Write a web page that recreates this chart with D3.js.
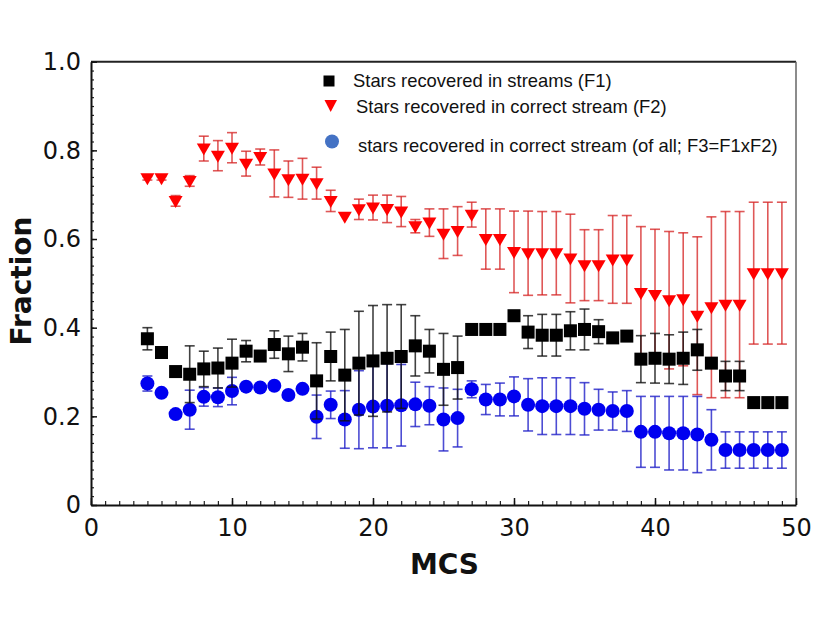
<!DOCTYPE html>
<html>
<head>
<meta charset="utf-8">
<script src="https://cdn.jsdelivr.net/npm/d3@7"></script>
<style>
  html, body { margin: 0; padding: 0; background: #fff; }
  svg { display: block; }
</style>
</head>
<body>
<svg id="chart" width="830" height="623"></svg>
<script>
// ---- data ----
const mcs = [4,5,6,7,8,9,10,11,12,13,14,15,16,17,18,19,20,21,22,23,24,25,26,27,28,29,30,31,32,33,34,35,36,37,38,39,40,41,42,43,44,45,46,47,48,49];

const f1 = [0.375,0.344,0.301,0.295,0.307,0.309,0.320,0.347,0.336,0.362,0.341,0.356,0.280,0.335,0.293,0.320,0.325,0.331,0.335,0.359,0.347,0.306,0.310,0.396,0.396,0.396,0.427,0.390,0.383,0.383,0.393,0.396,0.391,0.377,0.381,0.329,0.331,0.329,0.331,0.350,0.320,0.291,0.291,0.231,0.231,0.231];
const f1Err = [0.025,0,0,0.064,0.040,0.045,0.054,0.024,0,0.031,0.040,0.031,0.086,0.055,0.103,0.117,0.125,0.121,0.117,0.068,0.049,0.081,0.071,0,0,0,0,0.037,0.047,0.047,0.043,0.046,0.027,0,0,0.053,0.056,0.055,0.059,0.046,0,0.033,0.033,0,0,0];

const f2 = [0.737,0.737,0.686,0.731,0.804,0.788,0.806,0.770,0.785,0.748,0.735,0.736,0.726,0.686,0.650,0.667,0.671,0.668,0.662,0.629,0.637,0.612,0.618,0.655,0.600,0.600,0.571,0.568,0.568,0.568,0.556,0.541,0.541,0.554,0.554,0.478,0.474,0.462,0.464,0.427,0.446,0.452,0.452,0.523,0.523,0.523];
const f2Err = [0.004,0.004,0.012,0.012,0.028,0.034,0.034,0.028,0.018,0.053,0.041,0.046,0.036,0.024,0,0.023,0.028,0.031,0.034,0.015,0.031,0.056,0.055,0.028,0.068,0.068,0.092,0.095,0.094,0.094,0.100,0.080,0.080,0.099,0.099,0.150,0.148,0.155,0.150,0.178,0.204,0.210,0.210,0.160,0.160,0.160];

const f3 = [0.274,0.253,0.205,0.215,0.244,0.243,0.257,0.267,0.265,0.269,0.248,0.262,0.199,0.226,0.193,0.215,0.222,0.224,0.225,0.227,0.224,0.193,0.196,0.261,0.238,0.238,0.245,0.226,0.223,0.223,0.223,0.217,0.215,0.212,0.212,0.165,0.165,0.162,0.162,0.159,0.147,0.124,0.124,0.124,0.124,0.124];
const f3Err = [0.017,0,0,0.044,0.021,0.021,0.031,0,0,0,0,0,0.049,0.031,0.065,0.088,0.093,0.095,0.092,0.050,0.043,0.071,0.065,0.019,0.034,0.037,0.044,0.059,0.064,0.064,0.064,0.059,0.046,0.043,0.046,0.080,0.080,0.083,0.083,0.086,0.068,0.041,0.041,0.041,0.041,0.041];

const xTicks = [0,10,20,30,40,50];
const yTicks = [0,0.2,0.4,0.6,0.8,1.0];
const yTickLabels = ["0","0.2","0.4","0.6","0.8","1.0"];
const legendLabels = [
  "Stars recovered in streams (F1)",
  "Stars recovered in correct stream (F2)",
  "stars recovered in correct stream (of all; F3=F1xF2)"
];
const xTitle = "MCS";
const yTitle = "Fraction";

// ---- layout ----
const svg = d3.select("#chart");
const X0 = 91, X1 = 796, Y0 = 505, Y1 = 61.7;
const x = d3.scaleLinear().domain([0, 50]).range([X0, X1]);
const y = d3.scaleLinear().domain([0, 1]).range([Y0, Y1]);

// frame: top and right lines
svg.append("line").attr("x1", X0).attr("x2", X1).attr("y1", Y1).attr("y2", Y1)
  .attr("stroke", "#222").attr("stroke-width", 2);
svg.append("line").attr("x1", X1).attr("x2", X1).attr("y1", Y1).attr("y2", Y0)
  .attr("stroke", "#666").attr("stroke-width", 1.5);

// x axis (ticks inward)
const xAxisMinor = d3.axisBottom(x).ticks(50).tickSize(-4).tickFormat("");
svg.append("g").attr("transform", `translate(0,${Y0})`).call(xAxisMinor)
  .call(g => g.select(".domain").remove())
  .call(g => g.selectAll("line").attr("stroke", "#222").attr("stroke-width", 1.2));
const xAxis = d3.axisBottom(x).tickValues(xTicks).tickSizeInner(-7).tickSizeOuter(0).tickPadding(14)
  .tickFormat(d3.format("d"));
svg.append("g").attr("transform", `translate(0,${Y0})`).call(xAxis)
  .call(g => g.select(".domain").attr("stroke", "#111").attr("stroke-width", 2))
  .call(g => g.selectAll("line").attr("stroke", "#111").attr("stroke-width", 1.5))
  .call(g => g.selectAll("text").attr("font-family", "DejaVu Sans").attr("font-size", 24).attr("fill", "#111"));

// y axis (ticks inward)
const yAxisMinor = d3.axisLeft(y).ticks(40).tickSize(-3).tickFormat("");
svg.append("g").attr("transform", `translate(${X0},0)`).call(yAxisMinor)
  .call(g => g.select(".domain").remove())
  .call(g => g.selectAll("line").attr("stroke", "#222").attr("stroke-width", 1.2));
const yAxis = d3.axisLeft(y).tickValues(yTicks).tickSizeInner(-6).tickSizeOuter(0).tickPadding(10)
  .tickFormat((d, i) => yTickLabels[i]);
svg.append("g").attr("transform", `translate(${X0},0)`).call(yAxis)
  .call(g => g.select(".domain").attr("stroke", "#111").attr("stroke-width", 2))
  .call(g => g.selectAll("line").attr("stroke", "#111").attr("stroke-width", 1.5))
  .call(g => g.selectAll("text").attr("font-family", "DejaVu Sans").attr("font-size", 24).attr("fill", "#111"));

// axis titles
svg.append("text").attr("x", (X0 + X1) / 2 + 1).attr("y", 574).attr("text-anchor", "middle")
  .attr("font-family", "DejaVu Sans").attr("font-weight", "bold").attr("font-size", 28).attr("fill", "#111")
  .text(xTitle);
svg.append("text").attr("transform", `translate(31,281) rotate(-90)`).attr("text-anchor", "middle")
  .attr("font-family", "DejaVu Sans").attr("font-weight", "bold").attr("font-size", 28).attr("fill", "#111")
  .text(yTitle);

// ---- series ----
function series(vals, errs, barColor, barOpacity) {
  const data = mcs.map((m, i) => ({ m, v: vals[i], e: errs[i] }));
  const g = svg.append("g");
  const eb = data.filter(d => d.e > 0);
  const cap = 5;
  g.selectAll("line.v").data(eb).join("line")
    .attr("x1", d => x(d.m)).attr("x2", d => x(d.m))
    .attr("y1", d => y(d.v + d.e)).attr("y2", d => y(d.v - d.e))
    .attr("stroke", barColor).attr("stroke-opacity", barOpacity).attr("stroke-width", 1.6);
  g.selectAll("line.t").data(eb).join("line")
    .attr("x1", d => x(d.m) - cap).attr("x2", d => x(d.m) + cap)
    .attr("y1", d => y(d.v + d.e)).attr("y2", d => y(d.v + d.e))
    .attr("stroke", barColor).attr("stroke-opacity", barOpacity).attr("stroke-width", 1.6);
  g.selectAll("line.b").data(eb).join("line")
    .attr("x1", d => x(d.m) - cap).attr("x2", d => x(d.m) + cap)
    .attr("y1", d => y(d.v - d.e)).attr("y2", d => y(d.v - d.e))
    .attr("stroke", barColor).attr("stroke-opacity", barOpacity).attr("stroke-width", 1.6);
  return { g, data };
}

const tri = "M-7,-5L7,-5L0,7Z";

const s2 = series(f2, f2Err, "#d42020", 0.75);
s2.g.selectAll("path.m").data(s2.data).join("path")
  .attr("transform", d => `translate(${x(d.m)},${y(d.v)})`)
  .attr("d", tri).attr("fill", "#ff0000");

const s3 = series(f3, f3Err, "#2020c8", 0.8);
s3.g.selectAll("circle.m").data(s3.data).join("circle")
  .attr("cx", d => x(d.m)).attr("cy", d => y(d.v)).attr("r", 7)
  .attr("fill", "#0000f0");

const s1 = series(f1, f1Err, "#111", 0.8);
s1.g.selectAll("rect.m").data(s1.data).join("rect")
  .attr("x", d => x(d.m) - 6.5).attr("y", d => y(d.v) - 6.5)
  .attr("width", 13).attr("height", 13).attr("fill", "#000");

// ---- legend ----
const lg = svg.append("g");
const lfont = "Liberation Sans";
lg.append("rect").attr("x", 323.5).attr("y", 75.5).attr("width", 11).attr("height", 11).attr("fill", "#000");
lg.append("text").attr("x", 353).attr("y", 87).attr("font-family", lfont).attr("font-size", 18.4).attr("fill", "#111").text(legendLabels[0]);
lg.append("path").attr("d", "M324.5,100L337,100L330.7,112Z").attr("fill", "#ff0000");
lg.append("text").attr("x", 356).attr("y", 113).attr("font-family", lfont).attr("font-size", 18.4).attr("fill", "#111").text(legendLabels[1]);
lg.append("circle").attr("cx", 332).attr("cy", 141.5).attr("r", 7).attr("fill", "#4472c4");
lg.append("text").attr("x", 358).attr("y", 152).attr("font-family", lfont).attr("font-size", 18.4).attr("fill", "#111").text(legendLabels[2]);
</script>
</body>
</html>
